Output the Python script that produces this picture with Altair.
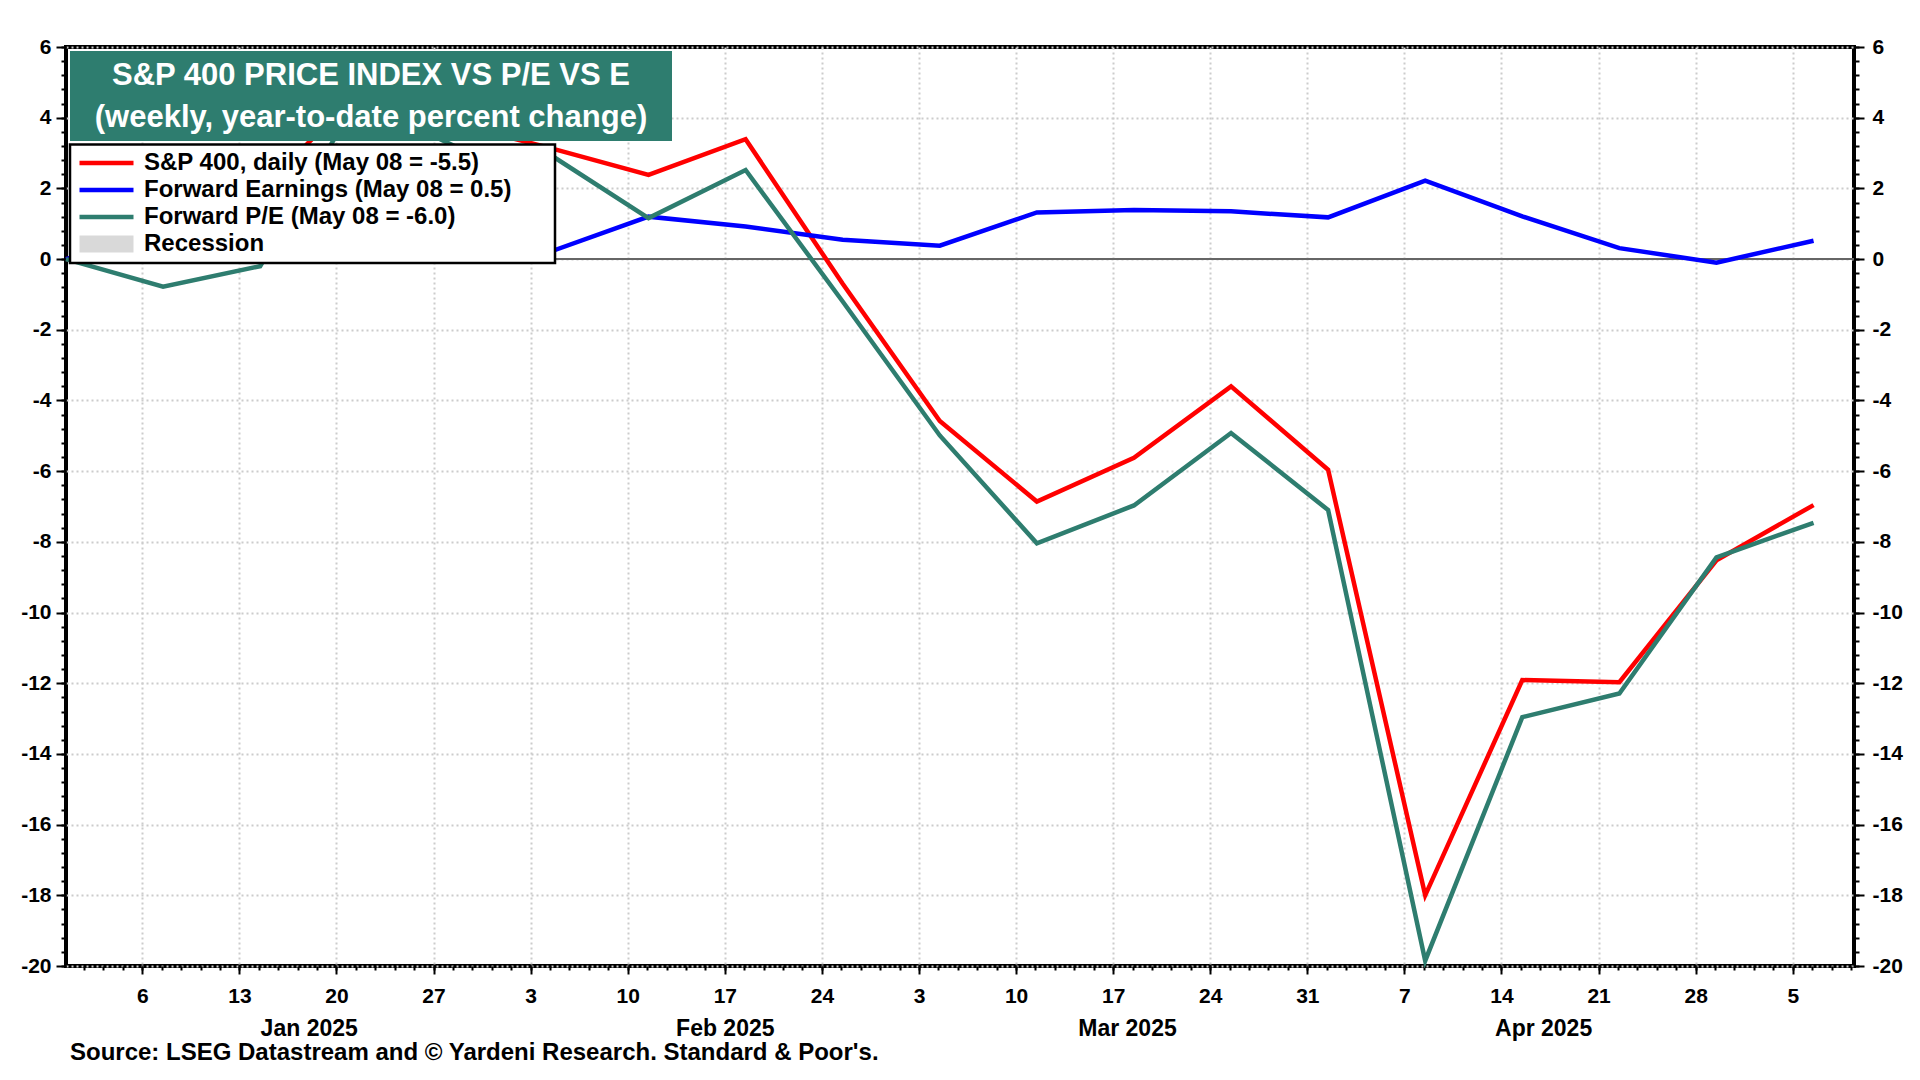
import altair as alt
import pandas as pd

FONT = "Liberation Sans, Arial, Helvetica, sans-serif"

# ---------------- data (weekly, YTD % change) ----------------
dates = [
    "2024-12-31T12:00:00Z", "2025-01-07T12:00:00Z", "2025-01-14T12:00:00Z", "2025-01-21T12:00:00Z",
    "2025-01-28T12:00:00Z", "2025-02-04T12:00:00Z", "2025-02-11T12:00:00Z", "2025-02-18T12:00:00Z",
    "2025-02-25T12:00:00Z", "2025-03-04T12:00:00Z", "2025-03-11T12:00:00Z", "2025-03-18T12:00:00Z",
    "2025-03-25T12:00:00Z", "2025-04-01T12:00:00Z", "2025-04-08T12:00:00Z", "2025-04-15T12:00:00Z",
    "2025-04-22T12:00:00Z", "2025-04-29T12:00:00Z", "2025-05-06T12:00:00Z",
]
sp400 = [0.0, 0.0, 1.9, 4.7, 3.85, 3.13, 2.38, 3.39, -0.7, -4.58, -6.86, -5.62,
         -3.6, -5.96, -18.0, -11.91, -11.97, -8.52, -6.96]
fwd_earnings = [0.0, 0.78, 2.1, 0.17, 0.63, 0.22, 1.2, 0.92, 0.55, 0.38, 1.32, 1.39,
                1.35, 1.18, 2.22, 1.21, 0.31, -0.1, 0.52]
fwd_pe = [0.0, -0.78, -0.2, 4.52, 3.2, 2.93, 1.16, 2.52, -1.2, -4.99, -8.04, -6.97,
          -4.92, -7.1, -19.85, -12.96, -12.29, -8.44, -7.46]

series_names = [
    "S&P 400, daily (May 08 = -5.5)",
    "Forward Earnings (May 08 = 0.5)",
    "Forward P/E (May 08 = -6.0)",
    "Recession",
]
series_colors = ["#ff0000", "#0000ff", "#2e7d6f", "#d9d9d9"]
series_widths = [4.5, 4.5, 4.5, 17]

title_lines = ["S&P 400 PRICE INDEX VS P/E VS E", "(weekly, year-to-date percent change)"]
source_text = ["Source: LSEG Datastream and \u00a9 Yardeni Research. Standard & Poor's."]

# axis tick positions
x_start = "2024-12-31T12:00:00Z"
x_end = "2025-05-09T10:00:00Z"
major_ticks = pd.date_range("2025-01-06", "2025-05-05", freq="7D", tz="UTC")
month_labels_at = ["2025-01-18", "2025-02-17", "2025-03-18", "2025-04-17"]
y_major = list(range(-20, 7, 2))
y_minor = [round(-20 + 0.4 * k, 2) for k in range(66)]


def ms(t):
    ts = pd.Timestamp(t)
    ts = ts.tz_convert("UTC") if ts.tzinfo else ts.tz_localize("UTC")
    return int(ts.value // 1_000_000)


xdomain = [ms(x_start), ms(x_end)]
step = pd.Timedelta(hours=33.6)
first_minor = pd.Timestamp("2025-01-06", tz="UTC") - 4 * step
minor_ticks = [t for t in pd.date_range(first_minor, pd.Timestamp(x_end), freq=step)
               if xdomain[0] <= ms(t) <= xdomain[1]]
major_ms = [ms(t) for t in major_ticks]
minor_ms = [ms(t) for t in minor_ticks]
month_ms = [ms(t) for t in month_labels_at]

# ---------------- table ----------------
rows = []
for name, vals in zip(series_names[:3], [sp400, fwd_earnings, fwd_pe]):
    for d, v in zip(dates, vals):
        rows.append({"date": d, "value": v, "series": name})
df = pd.DataFrame(rows)

xscale = alt.Scale(type="utc", domain=xdomain, nice=False)
yscale = alt.Scale(domain=[-20, 6], nice=False, zero=False)

GRID = dict(grid=True, gridColor="#cccccc", gridDash=[2, 3], gridWidth=2)
TICK = dict(tickColor="black", tickWidth=2)


def X(axis):
    return alt.X("date:T", scale=xscale, axis=axis)


def Y(axis):
    return alt.Y("value:Q", scale=yscale, axis=axis)


x_main_axis = alt.Axis(values=major_ms, labelExpr="utcFormat(datum.value, '%-d')", orient="bottom",
                       domain=False, tickSize=8, labelFontSize=21, labelPadding=11, title=None,
                       labelFlush=False, labelOverlap=False, **GRID, **TICK)
y_left_axis = alt.Axis(values=y_major, orient="left", domain=False, tickSize=10, labelFontSize=21,
                       labelPadding=5, labelExpr="'' + datum.value", title=None, labelOverlap=False,
                       labelFlush=False, **GRID, **TICK)
y_right_axis = alt.Axis(values=y_major, orient="right", domain=False, tickSize=10, labelFontSize=21,
                        labelPadding=8, labelExpr="'' + datum.value", title=None, labelOverlap=False,
                        labelFlush=False, grid=False, **TICK)
y_left_minor = alt.Axis(values=y_minor, orient="left", domain=False, labels=False, grid=False,
                        tickSize=5, title=None, **TICK)
y_right_minor = alt.Axis(values=y_minor, orient="right", domain=False, labels=False, grid=False,
                         tickSize=5, title=None, **TICK)
x_minor_axis = alt.Axis(values=minor_ms, orient="bottom", domain=False, labels=False, grid=False,
                        tickSize=4, title=None, **TICK)
x_month_axis = alt.Axis(values=month_ms, orient="bottom", domain=False, ticks=False, grid=False,
                        labelExpr="utcFormat(datum.value, '%b %Y')", labelFontSize=23,
                        labelPadding=51, title=None, labelFlush=False, labelOverlap=False)

legend = alt.Legend(
    title=None, orient="none", legendX=0, legendY=97.5, direction="vertical",
    padding=5,
    symbolType="stroke", symbolSize=2916, clipHeight=27, rowPadding=0,
    labelFontSize=24, labelFont=FONT, labelFontWeight="bold", labelColor="black",
    labelOffset=2, symbolOffset=0, labelLimit=800,
)

base = alt.Chart(df)

zero_rule = alt.Chart(pd.DataFrame({"value": [0.0]})).mark_rule(color="#666666", strokeWidth=2).encode(
    y=Y(None)
)

lines = base.mark_line().encode(
    x=X(x_main_axis),
    y=Y(y_left_axis),
    color=alt.Color("series:N", scale=alt.Scale(domain=series_names, range=series_colors), legend=legend),
    strokeWidth=alt.StrokeWidth("series:N", scale=alt.Scale(type="ordinal", domain=series_names,
                                                             range=series_widths), legend=legend),
)

right_axis = base.mark_point(opacity=0).encode(x=X(None), y=Y(y_right_axis))
left_minor = base.mark_point(opacity=0).encode(x=X(None), y=Y(y_left_minor))
right_minor = base.mark_point(opacity=0).encode(x=X(None), y=Y(y_right_minor))
x_minor = base.mark_point(opacity=0).encode(x=X(x_minor_axis), y=Y(None))
x_month = base.mark_point(opacity=0).encode(x=X(x_month_axis), y=Y(None))

one = pd.DataFrame({"k": [0]})
title_box = alt.Chart(one).mark_rect(color="#2e7d6f").encode(
    x=alt.value(4), x2=alt.value(606), y=alt.value(4), y2=alt.value(94)
)
legend_box = alt.Chart(one).mark_rect(fill="white", stroke="black", strokeWidth=2.5).encode(
    x=alt.value(4), x2=alt.value(489), y=alt.value(97.5), y2=alt.value(216)
)
title1 = alt.Chart(pd.DataFrame({"t": [title_lines[0]]})).mark_text(
    color="white", font=FONT, fontWeight="bold", fontSize=31, align="center", baseline="middle"
).encode(text="t:N", x=alt.value(305), y=alt.value(29))
title2 = alt.Chart(pd.DataFrame({"t": [title_lines[1]]})).mark_text(
    color="white", font=FONT, fontWeight="bold", fontSize=31, align="center", baseline="middle"
).encode(text="t:N", x=alt.value(305), y=alt.value(70.5))
source = alt.Chart(pd.DataFrame({"t": source_text})).mark_text(
    color="black", font=FONT, fontWeight="bold", fontSize=24, align="left", baseline="middle"
).encode(text="t:N", x=alt.value(4), y=alt.value(1006))

chart = alt.layer(
    zero_rule, lines, right_axis, left_minor, right_minor, x_minor, x_month,
    title_box, legend_box, title1, title2, source
).resolve_axis(
    x="independent", y="independent"
).resolve_scale(
    x="shared", y="shared"
).properties(
    width=1788, height=919,
    autosize=alt.AutoSizeParams(type="none"),
    padding={"left": 58, "top": 39, "right": 50, "bottom": 101},
    background="white",
).configure_view(
    stroke="black", strokeWidth=4
).configure_axis(
    labelFont=FONT, labelFontWeight="bold", labelColor="black"
)

chart.save("out.html", embed_options={"renderer": "svg", "actions": False})
